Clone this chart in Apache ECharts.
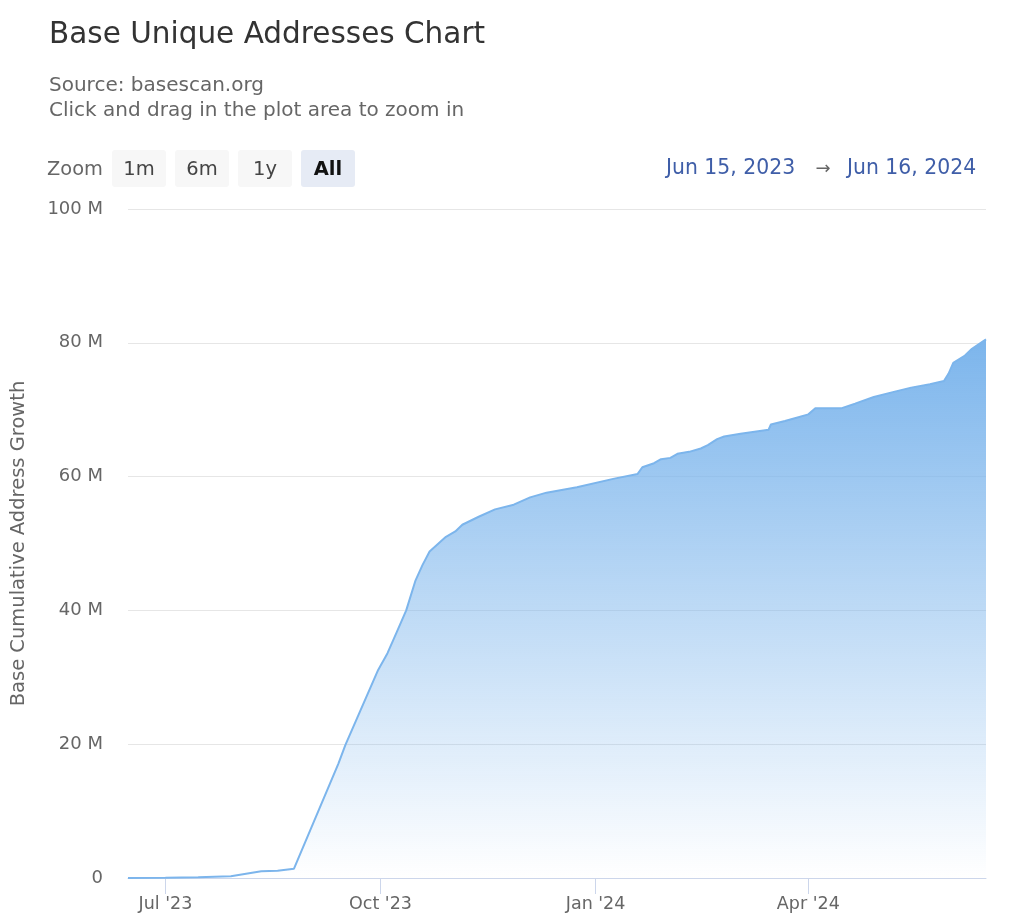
<!DOCTYPE html>
<html>
<head>
<meta charset="utf-8">
<title>Base Unique Addresses Chart</title>
<style>
  html, body { margin: 0; padding: 0; background: #fff; }
  #chart { width: 1024px; height: 922px; }
</style>
<script src="https://cdn.jsdelivr.net/npm/echarts@6/dist/echarts.min.js"></script>
</head>
<body>
<div id="chart"></div>
<script>
// values, in millions of addresses
const dates = [
  "2023-06-15", "2023-07-01", "2023-07-15", "2023-07-29", "2023-08-11", "2023-08-18", "2023-08-25",
  "2023-09-13", "2023-09-16", "2023-09-30", "2023-10-04", "2023-10-08", "2023-10-12", "2023-10-16", "2023-10-19", "2023-10-22",
  "2023-10-29", "2023-11-02", "2023-11-05", "2023-11-12", "2023-11-19", "2023-11-27", "2023-12-04",
  "2023-12-11", "2023-12-24", "2024-01-09", "2024-01-19", "2024-01-21", "2024-01-26", "2024-01-29",
  "2024-02-02", "2024-02-05", "2024-02-10", "2024-02-15", "2024-02-18", "2024-02-22", "2024-02-25",
  "2024-03-03", "2024-03-09", "2024-03-15", "2024-03-16", "2024-03-22", "2024-03-27", "2024-04-01",
  "2024-04-04", "2024-04-15", "2024-04-21", "2024-04-29", "2024-05-08", "2024-05-15", "2024-05-23",
  "2024-05-29", "2024-05-31", "2024-06-02", "2024-06-07", "2024-06-10", "2024-06-16"
];
const addresses = [
  0, 0.02, 0.1, 0.25, 1.0, 1.1, 1.4,
  17.1, 19.9, 31.1, 33.6, 36.8, 40, 44.5, 46.8, 48.8,
  51, 51.8, 52.8, 54, 55.1, 55.8, 56.9,
  57.6, 58.4, 59.7, 60.4, 61.4, 62, 62.6,
  62.8, 63.4, 63.7, 64.2, 64.7, 65.6, 66,
  66.4, 66.7, 67, 67.8, 68.3, 68.8, 69.3,
  70.2, 70.2, 70.9, 71.9, 72.7, 73.3, 73.8,
  74.3, 75.4, 77, 78.1, 79.1, 80.5
];
const xTicks = ["2023-07-01", "2023-10-01", "2024-01-01", "2024-04-01"];
const xTickLabels = ["Jul '23", "Oct '23", "Jan '24", "Apr '24"];
const zoomButtons = ["1m", "6m", "1y", "All"];

const font = "DejaVu Sans";
const chart = echarts.init(document.getElementById("chart"));

const toTime = (d) => +new Date(d + "T00:00:00Z");
const tickTimes = xTicks.map(toTime);

// range selector buttons, drawn as graphic elements
const buttonEls = [];
zoomButtons.forEach((name, i) => {
  const active = name === "All";
  buttonEls.push({
    type: "rect",
    shape: { x: 112 + i * 63, y: 150, width: 54, height: 37, r: 3 },
    style: { fill: active ? "#e6ebf5" : "#f7f7f7" },
  });
  buttonEls.push({
    type: "text",
    x: 139 + i * 63,
    y: 170,
    style: {
      text: name,
      font: (active ? "bold " : "") + "19.5px '" + font + "'",
      fill: active ? "#111" : "#444",
      align: "center",
      verticalAlign: "middle",
    },
  });
});

const options = {
  animation: false,
  title: {
    text: "Base Unique Addresses Chart",
    subtext: "Source: basescan.org\nClick and drag in the plot area to zoom in",
    left: 49,
    top: 20,
    padding: 0,
    itemGap: 23,
    textStyle: { fontFamily: font, fontSize: 29.5, fontWeight: "normal", color: "#333" },
    subtextStyle: { fontFamily: font, fontSize: 20, color: "#666", lineHeight: 25.5 },
  },
  grid: { left: 128, right: 38, top: 209, bottom: 44, outerBoundsMode: "none" },
  // a plain value axis over timestamps: custom ticks break on the time axis here
  xAxis: {
    type: "value",
    min: toTime(dates[0]),
    max: toTime(dates[dates.length - 1]),
    axisLine: { lineStyle: { color: "#ccd6eb", width: 1 } },
    axisTick: { length: 16, lineStyle: { color: "#ccd6eb" }, customValues: tickTimes },
    axisLabel: {
      customValues: tickTimes,
      formatter: (v) => xTickLabels[tickTimes.indexOf(v)],
      fontFamily: font,
      fontSize: 17.5,
      color: "#666",
      margin: 17,
    },
    splitLine: { show: false },
  },
  yAxis: {
    type: "value",
    min: 0,
    max: 100,
    interval: 20,
    name: "Base Cumulative Address Growth",
    nameLocation: "middle",
    nameGap: 99,
    nameTextStyle: { fontFamily: font, fontSize: 19.5, color: "#666" },
    axisLine: { show: false },
    axisTick: { show: false },
    axisLabel: {
      formatter: (v) => (v === 0 ? "0" : v + " M"),
      fontFamily: font,
      fontSize: 18,
      color: "#666",
      margin: 25,
      padding: [5, 0, 0, 0],
    },
    splitLine: { lineStyle: { color: "#e6e6e6", width: 1 } },
  },
  series: [
    {
      type: "line",
      data: dates.map((d, i) => [toTime(d), addresses[i]]),
      showSymbol: false,
      smooth: false,
      lineStyle: { color: "#7cb5ec", width: 2 },
      areaStyle: {
        opacity: 1,
        color: new echarts.graphic.LinearGradient(0, 0, 0, 1, [
          { offset: 0, color: "rgba(124,181,236,1)" },
          { offset: 1, color: "rgba(124,181,236,0)" },
        ]),
      },
    },
  ],
  graphic: [
    { type: "text", x: 47, y: 170, style: { text: "Zoom", font: "19.4px '" + font + "'", fill: "#666", verticalAlign: "middle" } },
    ...buttonEls,
    { type: "text", x: 666, y: 169, style: { text: "Jun 15, 2023", font: "20.4px '" + font + "'", fill: "#3f5ea8", verticalAlign: "middle" } },
    { type: "text", x: 823, y: 169, style: { text: "→", font: "18px '" + font + "'", fill: "#666", align: "center", verticalAlign: "middle" } },
    { type: "text", x: 847, y: 169, style: { text: "Jun 16, 2024", font: "20.4px '" + font + "'", fill: "#3f5ea8", verticalAlign: "middle" } },
  ],
};

chart.setOption(options);
</script>
</body>
</html>
